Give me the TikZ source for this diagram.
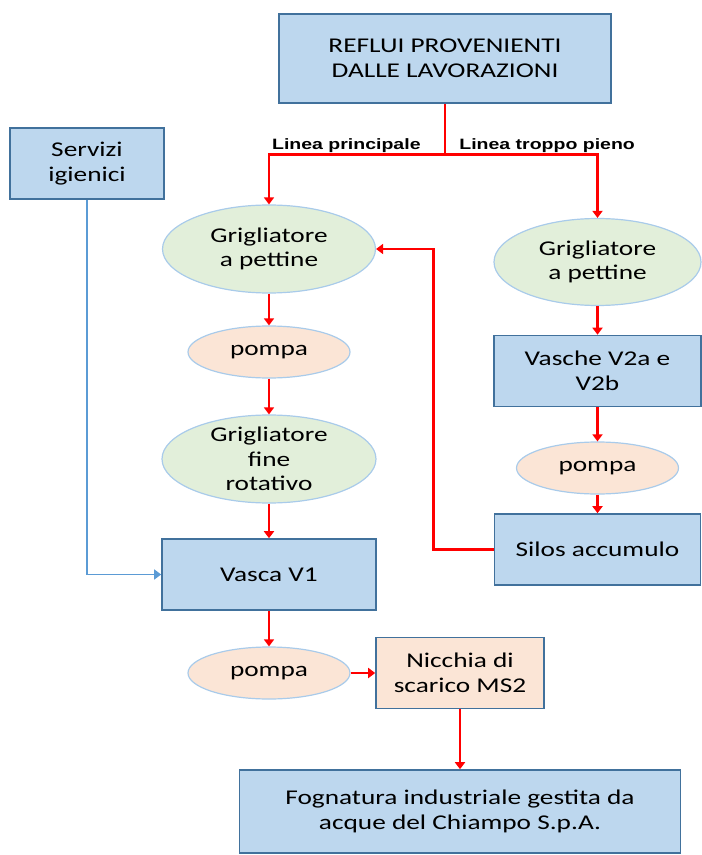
\documentclass[tikz,border=0pt]{standalone}
\usepackage{fontspec}
\setmainfont[FakeStretch=1.3]{Carlito}
\newfontfamily\lblfont[FakeStretch=1.3]{Liberation Sans}
\usepackage{tikz}
\usetikzlibrary{shapes.geometric,positioning,arrows.meta}
\definecolor{boxfill}{HTML}{BDD7EE}
\definecolor{boxline}{HTML}{41719C}
\definecolor{ovalfill}{HTML}{E2EFDA}
\definecolor{ovalline}{HTML}{A9CBEA}
\definecolor{pumpfill}{HTML}{FBE5D6}
\definecolor{pipeblue}{HTML}{5B9BD5}

\begin{document}
\begin{tikzpicture}[node distance=50pt,on grid,
  font=\fontsize{10.5}{12.3}\selectfont,
  box/.style={rectangle,draw=boxline,fill=boxfill,line width=0.8pt,align=center,inner sep=0pt},
  oval/.style={ellipse,draw=ovalline,fill=ovalfill,line width=0.6pt,align=center,inner xsep=0pt,inner ysep=-4pt},
  pump/.style={oval,fill=pumpfill,minimum width=81pt,minimum height=26pt},
  flow/.style={draw=red,line width=1.4pt,-{Triangle[length=3.5pt,width=5pt]}},
  lbl/.style={font=\lblfont\bfseries\fontsize{7.5}{9}\selectfont,inner sep=1pt}]
  \useasboundingbox (-222.5pt,29.25pt) rectangle (128pt,-398.25pt);
  \node[box,minimum width=166pt,minimum height=44.5pt] (refl) {REFLUI PROVENIENTI\\DALLE LAVORAZIONI};
  \node[box,minimum width=77pt,minimum height=35.5pt] (serv) [below left=52.5pt and 179pt of refl] {Servizi\\igienici};
  \node[oval,minimum width=106.5pt,minimum height=44pt] (gpl) [below left=95.25pt and 88pt of refl] {Grigliatore\\a pettine};
  \node[pump] (pompa1) [below=51.5pt of gpl] {pompa};
  \node[oval,minimum width=107pt,minimum height=44pt] (gfine) [below=53.5pt of pompa1] {Grigliatore\\fine\\rotativo};
  \node[box,minimum width=107pt,minimum height=35.5pt] (vasca) [below=57.75pt of gfine] {Vasca V1};
  \node[pump] (pompa3) [below=49.25pt of vasca] {pompa};
  \node[box,fill=pumpfill,minimum width=84pt,minimum height=35.5pt] (nicchia) [right=95.5pt of pompa3] {Nicchia di\\scarico MS2};
  \node[box,minimum width=220.5pt,minimum height=41.5pt] (fogn) [below=69.25pt of nicchia] {Fognatura industriale gestita da\\acque del Chiampo S.p.A.};
  \node[oval,minimum width=103.5pt,minimum height=43.5pt] (gpr) [below right=101.75pt and 76.25pt of refl] {Grigliatore\\a pettine};
  \node[box,minimum width=103.5pt,minimum height=35.5pt] (vasche) [below=54.5pt of gpr] {Vasche V2a e\\V2b};
  \node[pump] (pompa2) [below=48.5pt of vasche] {pompa};
  \node[box,minimum width=103pt,minimum height=35.5pt] (silos) [below=40.75pt of pompa2] {Silos accumulo};
  \coordinate[below=25.5pt of refl.south] (split);
  \node[lbl,anchor=south east] (lprinc) at ([xshift=-11pt]split) {Linea principale};
  \node[lbl,anchor=south west] (ltroppo) at ([xshift=6pt]split) {Linea troppo pieno};
  \draw[flow] (refl.south) -- (split) -| (gpl.north);
  \draw[flow] (split) -| (gpr.north);
  \draw[flow] (silos.west) -- ++(-30pt,0) |- (gpl.east);
  \draw[flow,draw=pipeblue,line width=0.7pt] (serv.south) |- (vasca.west);
  \draw[flow] (gpl) -- (pompa1);
  \draw[flow] (pompa1) -- (gfine);
  \draw[flow] (gfine) -- (vasca);
  \draw[flow] (vasca) -- (pompa3);
  \draw[flow] (pompa3) -- (nicchia);
  \draw[flow] (nicchia) -- (fogn);
  \draw[flow] (gpr) -- (vasche);
  \draw[flow] (vasche) -- (pompa2);
  \draw[flow] (pompa2) -- (silos);
\end{tikzpicture}
\end{document}
